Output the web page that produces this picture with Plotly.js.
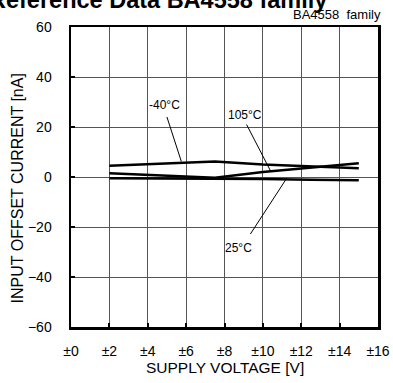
<!DOCTYPE html>
<html><head><meta charset="utf-8">
<script src="https://cdn.plot.ly/plotly-3.0.1.min.js"></script>
<style>html,body{margin:0;padding:0;background:#fff}#chart{width:393px;height:383px}</style>
</head><body><div id="chart"></div>
<script>
const supplyV = [2, 5, 7.5, 10, 12.5, 15];
const iosM40 = [4.5, 5.5, 6.2, 5.0, 4.2, 3.5];
const ios25 = [-0.5, -0.5, -0.5, -0.8, -1.1, -1.3];
const ios105 = [1.5, 0.5, -0.3, 2.0, 3.8, 5.5];
const xTickVals = [0, 2, 4, 6, 8, 10, 12, 14, 16];
const xTickText = ['±0', '±2', '±4', '±6', '±8', '±10', '±12', '±14', '±16'];
const yTickVals = [-60, -40, -20, 0, 20, 40, 60];
const labels = [
  {text: '-40°C', x: 4.85, y: 29, lx0: 5.0, ly0: 24, lx1: 5.75, ly1: 6.2},
  {text: '105°C', x: 9.07, y: 25, lx0: 9.15, ly0: 21, lx1: 10.4, ly1: 2.4},
  {text: '25°C', x: 8.75, y: -28.4, lx0: 9.35, ly0: -22.8, lx1: 11.25, ly1: -0.4}
];
const titleText = 'Reference Data BA4558 family';
const subTitleText = 'BA4558  family';
const xTitleText = 'SUPPLY VOLTAGE [V]';
const yTitleText = 'INPUT OFFSET CURRENT [nA]';

const lineStyle = {color: '#000', width: 2.5};
const traces = [
  {x: supplyV, y: iosM40, mode: 'lines', line: lineStyle, name: '-40°C'},
  {x: supplyV, y: ios25, mode: 'lines', line: lineStyle, name: '25°C'},
  {x: supplyV, y: ios105, mode: 'lines', line: lineStyle, name: '105°C'}
];

const FONT = 'Liberation Sans, Arial';
const annotations = labels.map(l => ({
  x: l.x, y: l.y, xref: 'x', yref: 'y', text: l.text, showarrow: false,
  font: {family: FONT, size: 12, color: '#000'}
}));
annotations.push({
  xref: 'paper', yref: 'paper', x: 0.283, y: 1.041, xanchor: 'center', yanchor: 'bottom',
  text: '<b>' + titleText + '</b>', showarrow: false,
  font: {family: FONT, size: 23.5, color: '#000'}
});
annotations.push({
  xref: 'paper', yref: 'paper', x: 1.015, y: 1.01, xanchor: 'right', yanchor: 'bottom',
  text: subTitleText, showarrow: false,
  font: {family: FONT, size: 13, color: '#000'}
});
annotations.push({
  xref: 'paper', yref: 'paper', x: 0.5, y: -0.134, xanchor: 'center', yanchor: 'middle',
  text: xTitleText, showarrow: false,
  font: {family: FONT, size: 15.5, color: '#000'}
});
annotations.push({
  xref: 'paper', yref: 'paper', x: -0.175, y: 0.463, xanchor: 'center', yanchor: 'middle',
  text: yTitleText, showarrow: false, textangle: -90,
  font: {family: FONT, size: 16, color: '#000'}
});

const shapes = labels.map(l => ({
  type: 'line', xref: 'x', yref: 'y', x0: l.lx0, y0: l.ly0, x1: l.lx1, y1: l.ly1,
  line: {color: '#000', width: 1}
}));

const layout = {
  width: 393, height: 383,
  margin: {l: 71, r: 15, t: 27, b: 56},
  paper_bgcolor: '#fff', plot_bgcolor: '#fff',
  showlegend: false,
  font: {family: FONT, size: 14, color: '#000'},
  xaxis: {
    range: [0, 16], tickvals: xTickVals, ticktext: xTickText,
    showgrid: true, gridcolor: '#555', gridwidth: 1, zeroline: false,
    showline: true, linecolor: '#000', linewidth: 2.5, mirror: true,
    ticks: 'inside', ticklen: 4, tickwidth: 2, tickcolor: '#000',
    ticklabelstandoff: 10,
    tickfont: {size: 14}
  },
  yaxis: {
    range: [-60, 60], tickvals: yTickVals,
    showgrid: true, gridcolor: '#555', gridwidth: 1, zeroline: false,
    showline: true, linecolor: '#000', linewidth: 2.5, mirror: true,
    ticks: 'inside', ticklen: 4, tickwidth: 2, tickcolor: '#000',
    ticklabelstandoff: 14,
    tickfont: {size: 14}
  },
  annotations: annotations,
  shapes: shapes
};

Plotly.newPlot('chart', traces, layout, {displayModeBar: false, staticPlot: true});
</script></body></html>
